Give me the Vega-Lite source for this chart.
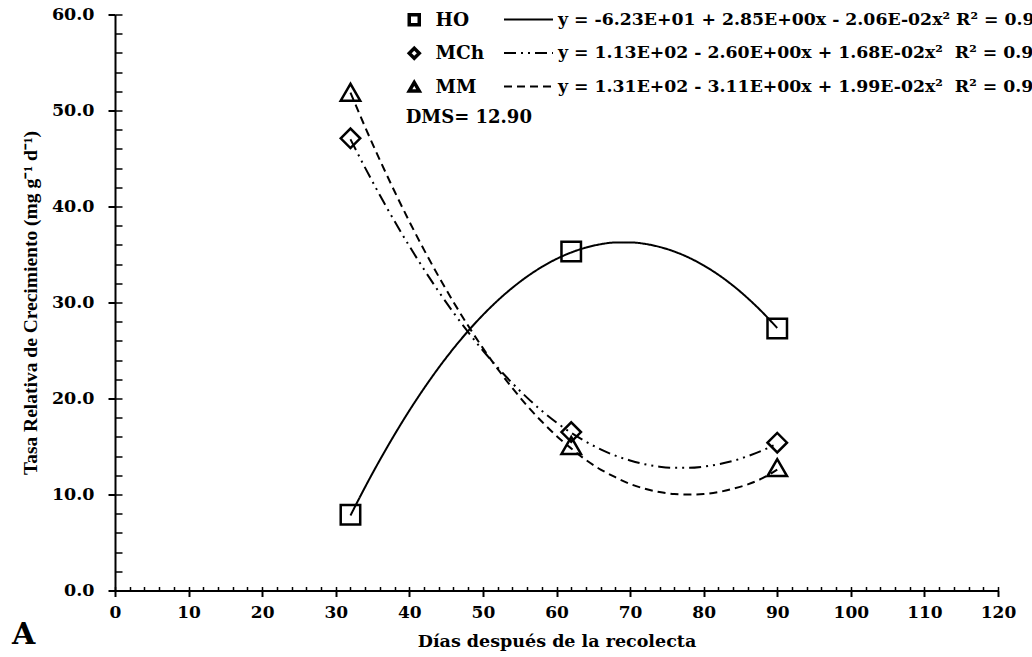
{
  "$schema": "https://vega.github.io/schema/vega-lite/v6.json",
  "width": 883,
  "height": 576,
  "autosize": {"type": "none"},
  "padding": {"left": 115, "top": 14.5, "right": 34, "bottom": 66.5},
  "background": "white",
  "config": {"view": {"stroke": null}, "font": "DejaVu Serif"},
  "title": {"text": "A", "orient": "bottom", "anchor": "start", "frame": "group", "dx": -103, "offset": -30, "fontSize": 30, "font": "DejaVu Serif", "fontWeight": "bold", "color": "black"},
  "datasets": {
    "curves": [
      {"curva": "HO", "x": 32, "y": 7.81}, {"curva": "HO", "x": 34, "y": 10.79}, {"curva": "HO", "x": 36, "y": 13.6}, {"curva": "HO", "x": 38, "y": 16.25}, {"curva": "HO", "x": 40, "y": 18.74}, {"curva": "HO", "x": 42, "y": 21.06}, {"curva": "HO", "x": 44, "y": 23.22}, {"curva": "HO", "x": 46, "y": 25.21}, {"curva": "HO", "x": 48, "y": 27.04}, {"curva": "HO", "x": 50, "y": 28.7}, {"curva": "HO", "x": 52, "y": 30.2}, {"curva": "HO", "x": 54, "y": 31.53}, {"curva": "HO", "x": 56, "y": 32.7}, {"curva": "HO", "x": 58, "y": 33.7}, {"curva": "HO", "x": 60, "y": 34.54}, {"curva": "HO", "x": 62, "y": 35.21}, {"curva": "HO", "x": 64, "y": 35.72}, {"curva": "HO", "x": 66, "y": 36.07}, {"curva": "HO", "x": 68, "y": 36.25}, {"curva": "HO", "x": 70, "y": 36.26}, {"curva": "HO", "x": 72, "y": 36.11}, {"curva": "HO", "x": 74, "y": 35.79}, {"curva": "HO", "x": 76, "y": 35.31}, {"curva": "HO", "x": 78, "y": 34.67}, {"curva": "HO", "x": 80, "y": 33.86}, {"curva": "HO", "x": 82, "y": 32.89}, {"curva": "HO", "x": 84, "y": 31.75}, {"curva": "HO", "x": 86, "y": 30.44}, {"curva": "HO", "x": 88, "y": 28.97}, {"curva": "HO", "x": 90, "y": 27.34},
      {"curva": "MCh", "x": 32, "y": 47.0}, {"curva": "MCh", "x": 34, "y": 44.02}, {"curva": "MCh", "x": 36, "y": 41.17}, {"curva": "MCh", "x": 38, "y": 38.46}, {"curva": "MCh", "x": 40, "y": 35.88}, {"curva": "MCh", "x": 42, "y": 33.44}, {"curva": "MCh", "x": 44, "y": 31.13}, {"curva": "MCh", "x": 46, "y": 28.95}, {"curva": "MCh", "x": 48, "y": 26.91}, {"curva": "MCh", "x": 50, "y": 25.0}, {"curva": "MCh", "x": 52, "y": 23.23}, {"curva": "MCh", "x": 54, "y": 21.59}, {"curva": "MCh", "x": 56, "y": 20.09}, {"curva": "MCh", "x": 58, "y": 18.72}, {"curva": "MCh", "x": 60, "y": 17.5}, {"curva": "MCh", "x": 62, "y": 16.42}, {"curva": "MCh", "x": 64, "y": 15.5}, {"curva": "MCh", "x": 66, "y": 14.7}, {"curva": "MCh", "x": 68, "y": 14.05}, {"curva": "MCh", "x": 70, "y": 13.55}, {"curva": "MCh", "x": 72, "y": 13.15}, {"curva": "MCh", "x": 74, "y": 12.9}, {"curva": "MCh", "x": 76, "y": 12.78}, {"curva": "MCh", "x": 78, "y": 12.78}, {"curva": "MCh", "x": 80, "y": 12.9}, {"curva": "MCh", "x": 82, "y": 13.15}, {"curva": "MCh", "x": 84, "y": 13.5}, {"curva": "MCh", "x": 86, "y": 14.0}, {"curva": "MCh", "x": 88, "y": 14.6}, {"curva": "MCh", "x": 90, "y": 15.3},
      {"curva": "MM", "x": 32, "y": 51.86}, {"curva": "MM", "x": 34, "y": 48.26}, {"curva": "MM", "x": 36, "y": 44.83}, {"curva": "MM", "x": 38, "y": 41.56}, {"curva": "MM", "x": 40, "y": 38.44}, {"curva": "MM", "x": 42, "y": 35.48}, {"curva": "MM", "x": 44, "y": 32.69}, {"curva": "MM", "x": 46, "y": 30.05}, {"curva": "MM", "x": 48, "y": 27.57}, {"curva": "MM", "x": 50, "y": 25.25}, {"curva": "MM", "x": 52, "y": 23.09}, {"curva": "MM", "x": 54, "y": 21.09}, {"curva": "MM", "x": 56, "y": 19.25}, {"curva": "MM", "x": 58, "y": 17.6}, {"curva": "MM", "x": 60, "y": 16.1}, {"curva": "MM", "x": 62, "y": 14.8}, {"curva": "MM", "x": 64, "y": 13.6}, {"curva": "MM", "x": 66, "y": 12.6}, {"curva": "MM", "x": 68, "y": 11.8}, {"curva": "MM", "x": 70, "y": 11.1}, {"curva": "MM", "x": 72, "y": 10.6}, {"curva": "MM", "x": 74, "y": 10.25}, {"curva": "MM", "x": 76, "y": 10.05}, {"curva": "MM", "x": 78, "y": 10.0}, {"curva": "MM", "x": 80, "y": 10.05}, {"curva": "MM", "x": 82, "y": 10.25}, {"curva": "MM", "x": 84, "y": 10.6}, {"curva": "MM", "x": 86, "y": 11.05}, {"curva": "MM", "x": 88, "y": 11.7}, {"curva": "MM", "x": 90, "y": 12.6}
    ],
    "points": [
      {"serie": "HO", "x": 32, "y": 7.9}, {"serie": "HO", "x": 62, "y": 35.3}, {"serie": "HO", "x": 90, "y": 27.3},
      {"serie": "MCh", "x": 32, "y": 47.1}, {"serie": "MCh", "x": 62, "y": 16.5}, {"serie": "MCh", "x": 90, "y": 15.4},
      {"serie": "MM", "x": 32, "y": 51.9}, {"serie": "MM", "x": 62, "y": 15.1}, {"serie": "MM", "x": 90, "y": 12.8}
    ]
  },
  "layer": [
    {
      "data": {"name": "curves"},
      "mark": {"type": "line", "color": "black", "strokeWidth": 2, "interpolate": "monotone"},
      "encoding": {
        "x": {"field": "x", "type": "quantitative", "scale": {"domain": [0, 120], "nice": false, "zero": false},
          "axis": {"orient": "bottom", "values": [0, 10, 20, 30, 40, 50, 60, 70, 80, 90, 100, 110, 120], "format": "d", "grid": false,
            "tickSize": 6, "tickWidth": 2, "tickColor": "black", "domain": true, "domainWidth": 2, "domainColor": "black",
            "labelFont": "DejaVu Serif", "labelFontWeight": "bold", "labelFontSize": 17, "labelColor": "black", "labelPadding": 8, "labelFlush": false,
            "title": "Días después de la recolecta", "titleFont": "DejaVu Serif", "titleFontWeight": "bold", "titleFontSize": 17.5, "titleColor": "black", "titlePadding": 12}},
        "y": {"field": "y", "type": "quantitative", "scale": {"domain": [0, 60], "nice": false, "zero": false},
          "axis": {"orient": "left", "values": [0, 10, 20, 30, 40, 50, 60], "format": ".1f", "grid": false,
            "tickSize": 7, "tickWidth": 2, "tickColor": "black", "domain": true, "domainWidth": 2, "domainColor": "black",
            "labelFont": "DejaVu Serif", "labelFontWeight": "bold", "labelFontSize": 17.5, "labelColor": "black", "labelPadding": 14, "labelFlush": false,
            "title": "Tasa Relativa de Crecimiento (mg g⁻¹ d⁻¹)", "titleFont": "Liberation Serif", "titleFontWeight": "bold", "titleFontSize": 19.5, "titleColor": "black",
            "titleX": -85, "titleY": 288, "titleAngle": -90, "titleAlign": "center", "titleBaseline": "middle"}},
        "strokeDash": {"field": "curva", "type": "nominal", "scale": {"range": [[1, 0], [12, 5, 2, 5, 2, 5], [8, 5]]},
          "legend": {"orient": "none", "legendX": 402.5, "legendY": -6, "title": null, "padding": 0,
            "symbolType": "M-2.45,0H2.45", "symbolSize": 400, "symbolStrokeWidth": 2, "symbolStrokeColor": "black",
            "labelFont": "DejaVu Serif", "labelFontWeight": "bold", "labelFontSize": 17.3, "labelColor": "black", "labelOffset": 18.5, "labelLimit": 0, "rowPadding": 13.5,
            "labelExpr": "datum.label === 'HO' ? 'y = -6.23E+01 + 2.85E+00x - 2.06E-02x² R² = 0.99' : datum.label === 'MCh' ? 'y = 1.13E+02 - 2.60E+00x + 1.68E-02x²\u00a0 R² = 0.99' : 'y = 1.31E+02 - 3.11E+00x + 1.99E-02x²\u00a0 R² = 0.99'"}}
      }
    },
    {
      "data": {"name": "points"},
      "mark": {"type": "point", "filled": false, "color": "black", "strokeWidth": 2.5, "size": 380, "opacity": 1},
      "encoding": {
        "x": {"field": "x", "type": "quantitative",
          "axis": {"orient": "bottom", "values": [0, 2, 4, 6, 8, 10, 12, 14, 16, 18, 20, 22, 24, 26, 28, 30, 32, 34, 36, 38, 40, 42, 44, 46, 48, 50, 52, 54, 56, 58, 60, 62, 64, 66, 68, 70, 72, 74, 76, 78, 80, 82, 84, 86, 88, 90, 92, 94, 96, 98, 100, 102, 104, 106, 108, 110, 112, 114, 116, 118, 120],
            "tickSize": -4, "tickWidth": 1.5, "tickColor": "black", "domain": false, "labels": false, "title": null, "grid": false}},
        "y": {"field": "y", "type": "quantitative",
          "axis": {"orient": "left", "values": [0, 2, 4, 6, 8, 10, 12, 14, 16, 18, 20, 22, 24, 26, 28, 30, 32, 34, 36, 38, 40, 42, 44, 46, 48, 50, 52, 54, 56, 58, 60],
            "tickSize": -7, "tickWidth": 1.5, "tickColor": "black", "domain": false, "labels": false, "title": null, "grid": false}},
        "shape": {"field": "serie", "type": "nominal", "scale": {"range": ["square", "diamond", "triangle-up"]},
          "legend": {"orient": "none", "legendX": 290, "legendY": -4, "title": null, "padding": 0,
            "symbolStrokeColor": "black", "symbolStrokeWidth": 3.5,
            "labelFont": "DejaVu Serif", "labelFontWeight": "bold", "labelFontSize": 18.5, "labelColor": "black", "labelOffset": 12, "rowPadding": 8.5,
            "encode": {"symbols": {"update": {"size": {"value": 240}, "strokeWidth": {"value": 3.5}}}}}}
      }
    },
    {
      "data": {"values": [{}]},
      "mark": {"type": "text", "align": "left", "baseline": "middle", "font": "DejaVu Serif", "fontWeight": "bold", "fontSize": 18, "color": "black"},
      "encoding": {
        "x": {"datum": 39.5, "type": "quantitative", "axis": null},
        "y": {"datum": 49.2, "type": "quantitative", "axis": null},
        "text": {"value": "DMS= 12.90"}
      }
    }
  ],
  "resolve": {"axis": {"x": "independent", "y": "independent"}}
}
